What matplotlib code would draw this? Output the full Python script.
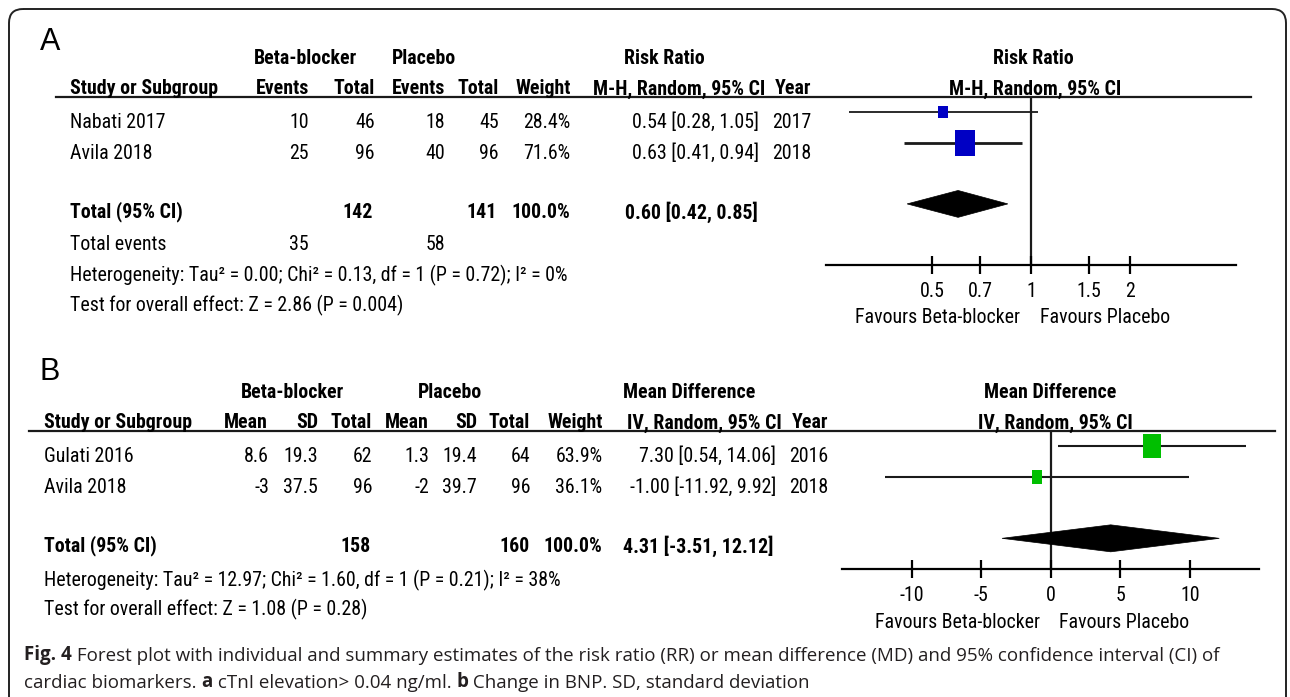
import numpy as np
import matplotlib
matplotlib.use("Agg")
import matplotlib.pyplot as plt
from matplotlib import font_manager
from matplotlib.patches import FancyBboxPatch, Polygon
from matplotlib.path import Path
from matplotlib.ticker import FixedLocator, FixedFormatter, NullLocator

# ------------------------------------------------------------------
# Panel A: cTnI elevation, risk ratio
# ------------------------------------------------------------------
a_studies = ["Nabati 2017", "Avila 2018"]
a_bb_events = [10, 25]
a_bb_total = [46, 96]
a_pl_events = [18, 40]
a_pl_total = [45, 96]
a_weight = [28.4, 71.6]
a_rr = [0.54, 0.63]
a_lo = [0.28, 0.41]
a_hi = [1.05, 0.94]
a_year = [2017, 2018]
a_pooled = [0.60, 0.42, 0.85]          # estimate, lower, upper
a_sum_total = [142, 141]
a_sum_events = [35, 58]
a_ticks = [0.5, 0.7, 1, 1.5, 2]
a_het = "Heterogeneity: Tau² = 0.00; Chi² = 0.13, df = 1 (P = 0.72); I² = 0%"
a_test = "Test for overall effect: Z = 2.86 (P = 0.004)"

# ------------------------------------------------------------------
# Panel B: change in BNP, mean difference
# ------------------------------------------------------------------
b_studies = ["Gulati 2016", "Avila 2018"]
b_bb_mean = [8.6, -3]
b_bb_sd = [19.3, 37.5]
b_bb_total = [62, 96]
b_pl_mean = [1.3, -2]
b_pl_sd = [19.4, 39.7]
b_pl_total = [64, 96]
b_weight = [63.9, 36.1]
b_md = [7.30, -1.00]
b_lo = [0.54, -11.92]
b_hi = [14.06, 9.92]
b_year = [2016, 2018]
b_pooled = [4.31, -3.51, 12.12]
b_sum_total = [158, 160]
b_ticks = [-10, -5, 0, 5, 10]
b_het = "Heterogeneity: Tau² = 12.97; Chi² = 1.60, df = 1 (P = 0.21); I² = 38%"
b_test = "Test for overall effect: Z = 1.08 (P = 0.28)"

# RevMan output uses a narrow sans; take a condensed family if one is installed
installed = {f.name for f in font_manager.fontManager.ttflist}
TFONT = "Liberation Sans"
for cand in ["Liberation Sans Narrow", "Arial Narrow", "Roboto Condensed",
             "Open Sans Condensed", "DejaVu Sans Condensed"]:
    if cand in installed:
        TFONT = cand
        break

plt.rcParams['font.family'] = [TFONT, 'DejaVu Sans']
plt.rcParams['axes.unicode_minus'] = False

W, H = 1290, 697
fig = plt.figure(figsize=(W / 100, H / 100), dpi=100)
bg = fig.add_axes([0, 0, 1, 1])
bg.set_xlim(0, W)
bg.set_ylim(H, 0)
bg.axis('off')

# size the table font so the heterogeneity line is as wide as in the figure (~494 px)
probe = fig.text(0, 0, a_het, fontsize=10)
w10 = probe.get_window_extent(renderer=fig.canvas.get_renderer()).width
probe.remove()
FS = 10 * 494 / w10


def px_axes(x0, y0, x1, y1):
    # axes placed by pixel box (top-left origin)
    return fig.add_axes([x0 / W, 1 - y1 / H, (x1 - x0) / W, (y1 - y0) / H])


def t(x, y, s, ha='left', bold=False, **kw):
    # +2 px: va='center' counts the descender, the eye centres on the caps
    bg.text(x, y + 2, s, ha=ha, va='center', fontsize=kw.pop('fontsize', FS),
            fontweight='bold' if bold else 'normal', color='black', **kw)


# outer rounded frame
frame = FancyBboxPatch((9, 9), 1277, 800, boxstyle="round,pad=0,rounding_size=14",
                       fill=False, ec='#222222', lw=1.4)
bg.add_patch(frame)

# rectangular study marker (taller than wide)
rect_marker = Path([(-0.37, -0.5), (0.37, -0.5), (0.37, 0.5), (-0.37, 0.5), (-0.37, -0.5)],
                   [Path.MOVETO, Path.LINETO, Path.LINETO, Path.LINETO, Path.CLOSEPOLY])


def forest(ax, est, lo, hi, pooled, sizes, color, null, ylim, ticks, lws):
    rows = np.arange(len(est))
    for r, e, l, h, ms, lw in zip(rows, est, lo, hi, sizes, lws):
        ax.plot([l, h], [r, r], color='#1a1a1a', lw=lw, solid_capstyle='butt', zorder=2)
        ax.plot([e], [r], marker=rect_marker, ms=ms, color=color, mec=color, mew=0, zorder=3)
    pe, pl, ph = pooled
    yr = len(est) + 1
    ax.add_patch(Polygon([(pl, yr), (pe, yr - 0.44), (ph, yr), (pe, yr + 0.44)],
                         closed=True, fc='black', ec='black', lw=0.5, zorder=3))
    ax.axvline(null, color='#1a1a1a', lw=1.6, zorder=1)
    ax.set_ylim(*ylim)
    for s in ['top', 'left', 'right']:
        ax.spines[s].set_visible(False)
    ax.spines['bottom'].set_linewidth(1.6)
    ax.set_yticks([])
    ax.xaxis.set_major_locator(FixedLocator(ticks))
    ax.xaxis.set_major_formatter(FixedFormatter([f"{v:g}" for v in ticks]))
    ax.xaxis.set_minor_locator(NullLocator())
    ax.tick_params(axis='x', direction='inout', length=12.5, width=1.6,
                   labelsize=FS, pad=6.5 - (FS - 12.3) * 0.35)
    ax.patch.set_alpha(0)


# ------------------------------------------------------------------
# Panel A table
# ------------------------------------------------------------------
t(50, 40, "A", ha='center', fontsize=22, family='Liberation Sans')
t(254, 57, "Beta-blocker", bold=True)
t(392, 57, "Placebo", bold=True)
t(624, 57, "Risk Ratio", bold=True)
t(1033, 57, "Risk Ratio", ha='center', bold=True)

a_hdr_y = 87
t(70, a_hdr_y, "Study or Subgroup", bold=True)
for s, x in [("Events", 309), ("Total", 375), ("Events", 445), ("Total", 499),
             ("Weight", 570.5), ("M-H, Random, 95% CI", 765), ("Year", 811)]:
    t(x, a_hdr_y, s, ha='right', bold=True)
t(1035, a_hdr_y, "M-H, Random, 95% CI", ha='center', bold=True)
bg.plot([56, 1251], [97, 97], color='#1a1a1a', lw=1.6)

a_row_y = [120.5, 151.5]
for i, y in enumerate(a_row_y):
    t(70, y, a_studies[i])
    t(309, y, str(a_bb_events[i]), ha='right')
    t(375, y, str(a_bb_total[i]), ha='right')
    t(445, y, str(a_pl_events[i]), ha='right')
    t(499, y, str(a_pl_total[i]), ha='right')
    t(570.5, y, f"{a_weight[i]:.1f}%", ha='right')
    t(759, y, f"{a_rr[i]:.2f} [{a_lo[i]:.2f}, {a_hi[i]:.2f}]", ha='right')
    t(811, y, str(a_year[i]), ha='right')

t(70, 210, "Total (95% CI)", bold=True)
t(373, 210, str(a_sum_total[0]), ha='right', bold=True)
t(497, 210, str(a_sum_total[1]), ha='right', bold=True)
t(570.5, 210, f"{sum(a_weight):.1f}%", ha='right', bold=True)
t(758, 210, f"{a_pooled[0]:.2f} [{a_pooled[1]:.2f}, {a_pooled[2]:.2f}]", ha='right', bold=True)
t(70, 243, "Total events")
t(309, 243, str(a_sum_events[0]), ha='right')
t(445, 243, str(a_sum_events[1]), ha='right')
t(70, 273.5, a_het)
t(70, 303, a_test)

ax_a = px_axes(826, 97, 1236, 265)
ax_a.set_xscale('log')
ax_a.set_xlim(0.238, 4.20)
forest(ax_a, a_rr, a_lo, a_hi, a_pooled, sizes=[8.9, 18.7], color='#0000c4',
       null=1, ylim=(5, -0.5), ticks=a_ticks, lws=[1.3, 2.0])
t(1020, 315.5, "Favours Beta-blocker", ha='right')
t(1040, 315.5, "Favours Placebo")

# ------------------------------------------------------------------
# Panel B table
# ------------------------------------------------------------------
t(50, 370, "B", ha='center', fontsize=22, family='Liberation Sans')
t(240.7, 391, "Beta-blocker", bold=True)
t(418, 391, "Placebo", bold=True)
t(623, 391, "Mean Difference", bold=True)
t(1050, 391, "Mean Difference", ha='center', bold=True)

b_hdr_y = 421
t(43.6, b_hdr_y, "Study or Subgroup", bold=True)
for s, x in [("Mean", 268), ("SD", 318), ("Total", 372), ("Mean", 429), ("SD", 477),
             ("Total", 530), ("Weight", 602.5), ("IV, Random, 95% CI", 782), ("Year", 828)]:
    t(x, b_hdr_y, s, ha='right', bold=True)
t(1055, b_hdr_y, "IV, Random, 95% CI", ha='center', bold=True)
bg.plot([29, 1275], [431, 431], color='#1a1a1a', lw=1.6)

b_row_y = [454.5, 485.5]
for i, y in enumerate(b_row_y):
    t(43.6, y, b_studies[i])
    t(269, y, f"{b_bb_mean[i]:g}", ha='right')
    t(318, y, f"{b_bb_sd[i]:g}", ha='right')
    t(372, y, str(b_bb_total[i]), ha='right')
    t(429.5, y, f"{b_pl_mean[i]:g}", ha='right')
    t(477, y, f"{b_pl_sd[i]:g}", ha='right')
    t(530, y, str(b_pl_total[i]), ha='right')
    t(602.5, y, f"{b_weight[i]:.1f}%", ha='right')
    t(776, y, f"{b_md[i]:.2f} [{b_lo[i]:.2f}, {b_hi[i]:.2f}]", ha='right')
    t(828, y, str(b_year[i]), ha='right')

t(43.6, 544, "Total (95% CI)", bold=True)
t(371, 544, str(b_sum_total[0]), ha='right', bold=True)
t(530, 544, str(b_sum_total[1]), ha='right', bold=True)
t(602.5, 544, f"{sum(b_weight):.1f}%", ha='right', bold=True)
t(773, 544, f"{b_pooled[0]:.2f} [{b_pooled[1]:.2f}, {b_pooled[2]:.2f}]", ha='right', bold=True)
t(43.6, 578, b_het)
t(43.6, 607.5, b_test)

ax_b = px_axes(842.3, 431, 1259.3, 569)
ax_b.set_xlim(-15, 15)
forest(ax_b, b_md, b_lo, b_hi, b_pooled, sizes=[16.8, 10.3], color='#00bf00',
       null=0, ylim=(4, -0.5), ticks=b_ticks, lws=[1.5, 1.5])
t(1040, 620.5, "Favours Beta-blocker", ha='right')
t(1058.7, 620.5, "Favours Placebo")

# ------------------------------------------------------------------
# Caption (mixed bold / regular runs chained one after another)
# ------------------------------------------------------------------
CAP = dict(fontsize=13.5, family='Open Sans', color='#231f20')


def rich_line(x, y, pieces):
    prev = bg.text(x, y, pieces[0][0], ha='left', va='bottom', fontweight=pieces[0][1], **CAP)
    for s, w in pieces[1:]:
        prev = bg.annotate(s, xy=(1, 0), xycoords=prev, ha='left', va='bottom',
                           fontweight=w, **CAP)


rich_line(24, 665, [("Fig. 4", 'bold'),
                    (" Forest plot with individual and summary estimates of the risk ratio (RR) or "
                     "mean difference (MD) and 95% confidence interval (CI) of", 'normal')])
rich_line(24, 692, [("cardiac biomarkers. ", 'normal'), ("a", 'bold'),
                    (" cTnI elevation> 0.04 ng/ml. ", 'normal'), ("b", 'bold'),
                    (" Change in BNP. SD, standard deviation", 'normal')])

fig.savefig("out.png", dpi=100)
